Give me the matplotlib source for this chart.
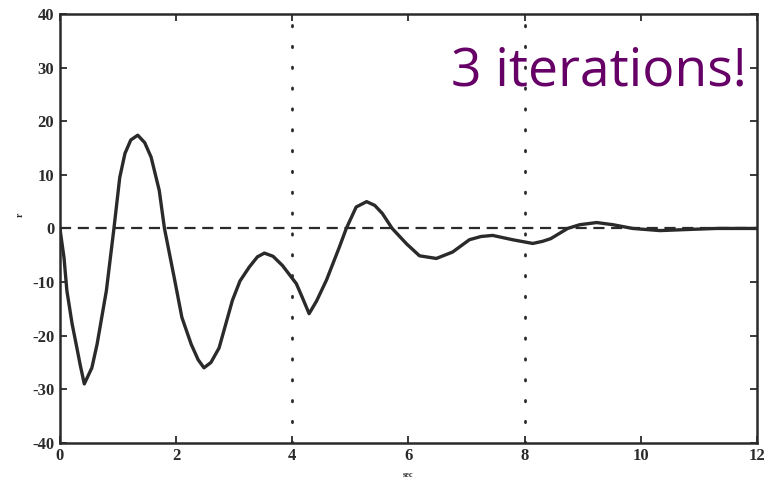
import matplotlib.pyplot as plt

plt.rcParams['axes.unicode_minus'] = False

# values
t = [0, 0.07, 0.12, 0.21, 0.28, 0.35, 0.42, 0.55, 0.64, 0.8, 0.93, 1.03, 1.12,
     1.22, 1.34, 1.46, 1.57, 1.71, 1.8, 1.97, 2.1, 2.26, 2.38, 2.48, 2.6, 2.74,
     2.97, 3.1, 3.26, 3.4, 3.52, 3.67, 3.83, 3.95, 4.07, 4.17, 4.29, 4.42, 4.59,
     4.81, 4.93, 5.1, 5.28, 5.42, 5.55, 5.72, 5.97, 6.19, 6.48, 6.76, 7.05, 7.25,
     7.45, 7.79, 8.14, 8.31, 8.45, 8.74, 8.95, 9.24, 9.52, 9.86, 10.33, 10.8,
     11.3, 12]
v = [0, -5.4, -11.6, -17.8, -21.6, -25.5, -29, -26, -21.6, -11.6, 0, 9.5, 14,
     16.5, 17.4, 16, 13.3, 7.1, 0, -9.3, -16.6, -21.6, -24.5, -26, -25, -22.3,
     -13.4, -9.8, -7.2, -5.3, -4.6, -5.2, -6.9, -8.6, -10.3, -12.8, -15.9, -13.5,
     -9.6, -3.5, 0, 4, 5, 4.3, 2.8, 0, -2.9, -5.1, -5.6, -4.4, -2.1, -1.5, -1.3,
     -2.1, -2.8, -2.4, -1.9, 0, 0.7, 1.1, 0.7, 0, -0.4, -0.2, 0, 0]

xticks = [0, 2, 4, 6, 8, 10, 12]
yticks = [-40, -30, -20, -10, 0, 10, 20, 30, 40]
vlines = [4, 8]

ink = '#2a2a2a'
fig = plt.figure(figsize=(7.78, 4.84), dpi=100)
ax = fig.add_axes([0.077, 0.085, 0.896, 0.886])

ax.axhline(0, color=ink, lw=1.6, ls=(0, (5, 3)))
for xv in vlines:
    ax.axvline(xv, color=ink, lw=2, ls=(0, (0.5, 7)), dash_capstyle='round')
ax.plot(t, v, color=ink, lw=2.4)

ax.set_xlim(0, 12)
ax.set_ylim(-40, 40)
ax.set_xticks(xticks)
ax.set_yticks(yticks)
ax.tick_params(direction='in', length=5, width=1.3, colors=ink,
               top=True, right=True, labelsize=12, pad=4)
for lab in ax.get_xticklabels() + ax.get_yticklabels():
    lab.set_fontfamily('Liberation Serif')
    lab.set_fontweight('bold')
for s in ax.spines.values():
    s.set_color(ink)
    s.set_linewidth(1.8)

ax.set_xlabel('sec', fontsize=6, family='Liberation Serif', fontweight='bold',
              color=ink, labelpad=5)
fig.text(0.02, 0.555, 'r', fontsize=7, rotation=90, color=ink,
         family='Liberation Serif', fontweight='bold')

ax.text(0.985, 0.834, '3 iterations!', transform=ax.transAxes, ha='right',
        va='baseline', fontsize=38.5, color='#660066', family='Open Sans')

fig.savefig('out.png', dpi=100)
